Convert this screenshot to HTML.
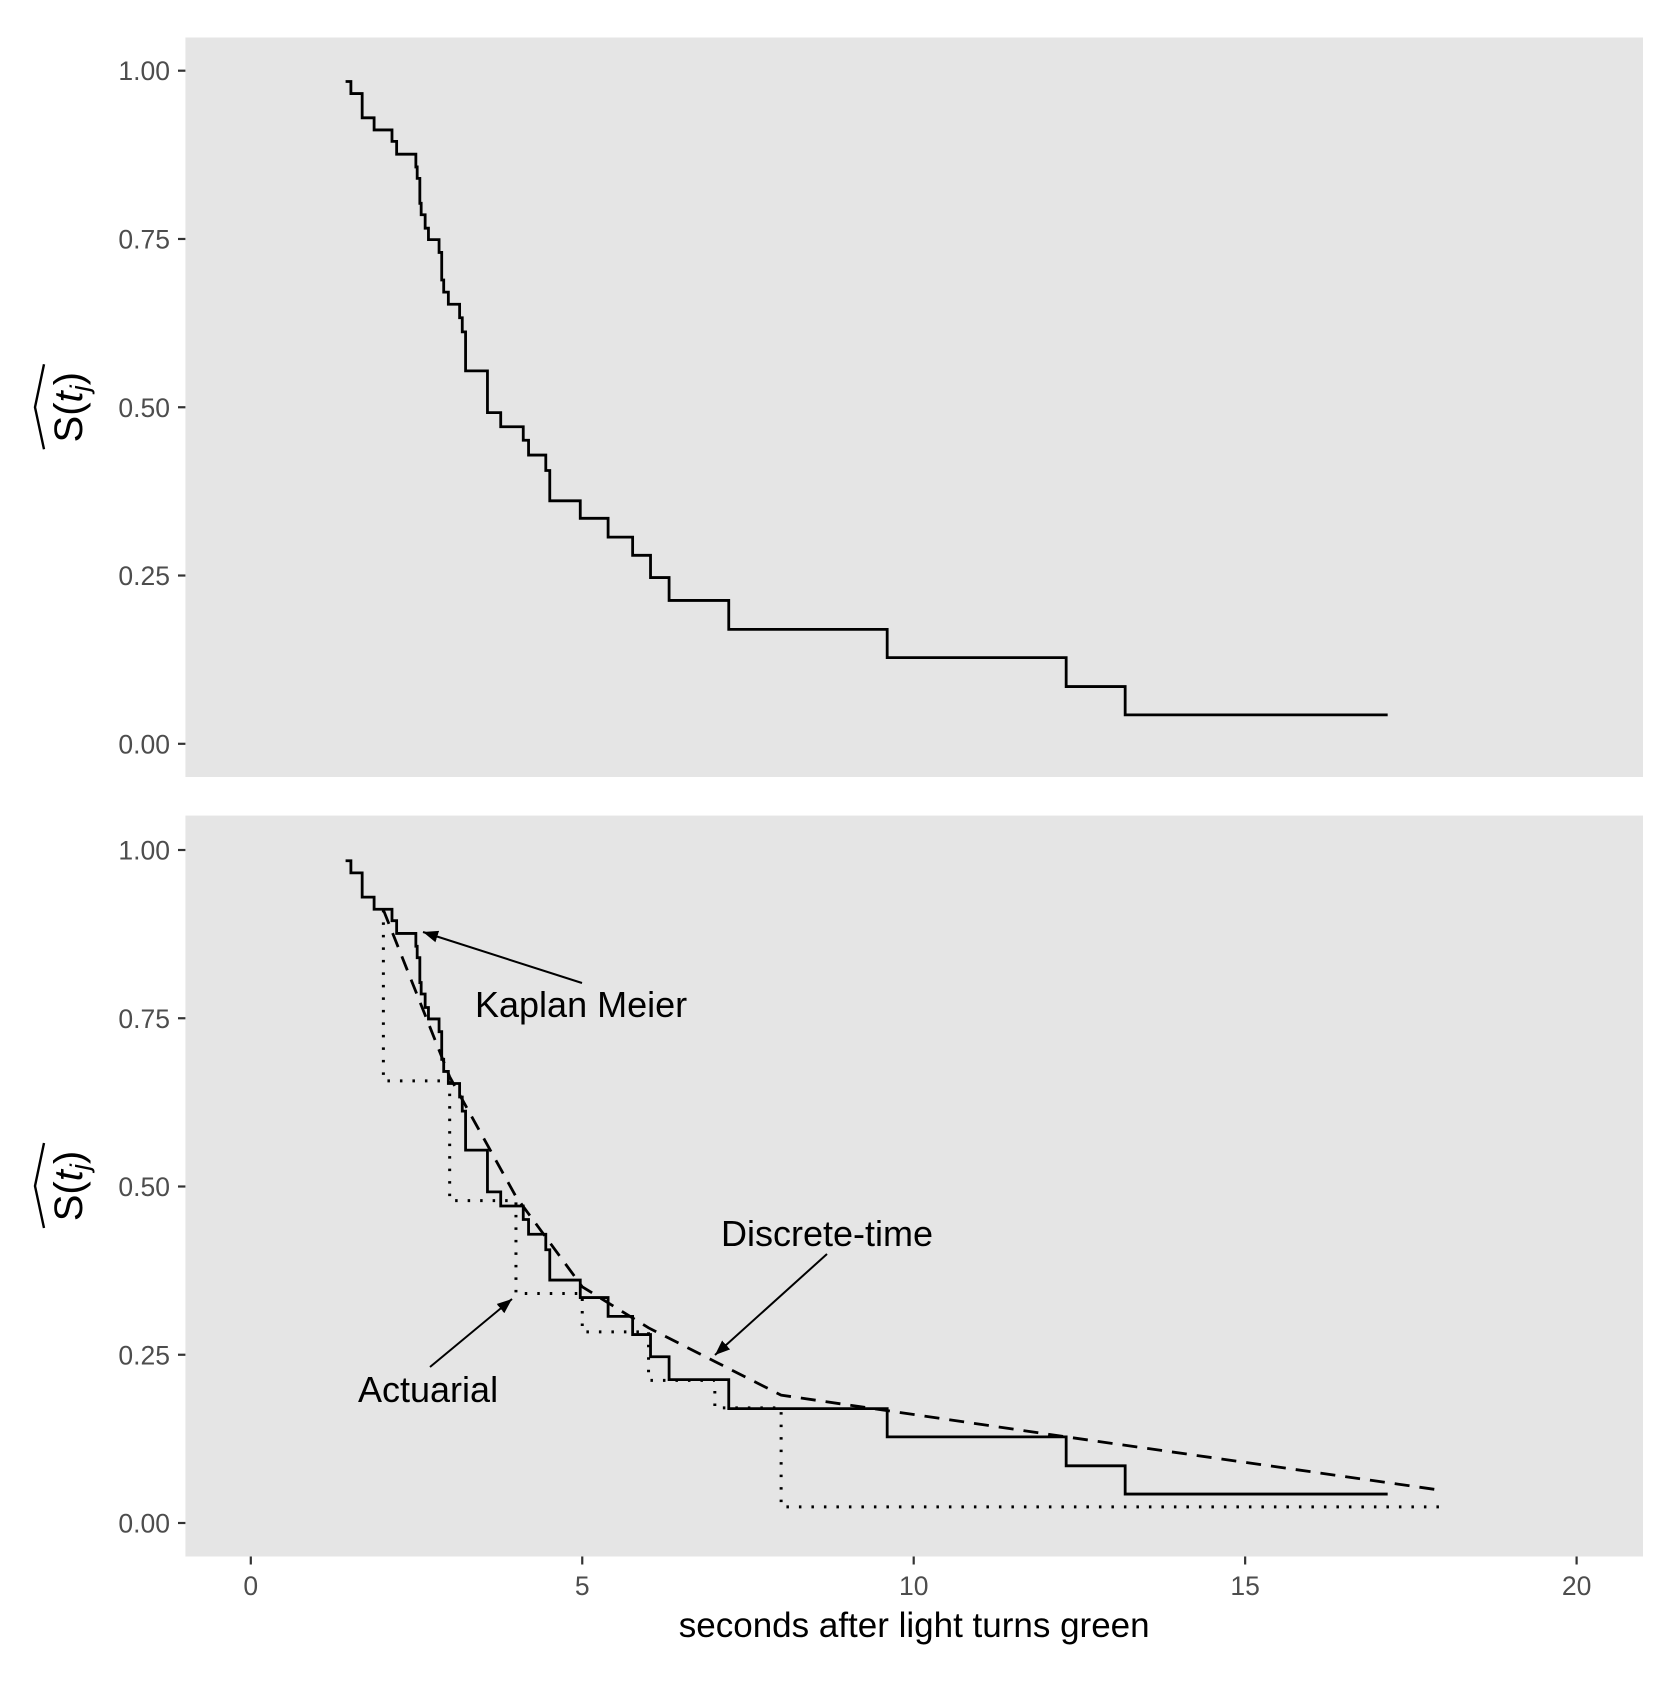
<!DOCTYPE html>
<html><head><meta charset="utf-8"><style>
html,body{margin:0;padding:0;background:#fff;}
svg text{font-family:"Liberation Sans",Arial,sans-serif;}
</style></head><body>
<svg id="chart" width="1680" height="1680" viewBox="0 0 1680 1680" xmlns="http://www.w3.org/2000/svg">
<defs>
<marker id="ah2" viewBox="0 0 10 10" refX="10" refY="5" markerWidth="15" markerHeight="15" markerUnits="userSpaceOnUse" orient="auto">
<path d="M0,1 L10,5 L0,9 z" fill="#000"/>
</marker>
</defs>
</svg>
<script>
const kmStart = [1.43, 0.984];
const kmTimes = [1.51,1.68,1.86,2.13,2.20,2.49,2.51,2.55,2.57,2.63,2.68,2.84,2.88,2.91,2.98,3.15,3.19,3.24,3.57,3.77,4.11,4.19,4.45,4.51,4.97,5.39,5.76,6.03,6.31,7.21,9.60,12.30,13.19];
const kmSurv = [0.966,0.930,0.912,0.895,0.876,0.857,0.840,0.803,0.786,0.766,0.749,0.730,0.689,0.671,0.653,0.633,0.612,0.554,0.492,0.471,0.451,0.429,0.406,0.361,0.335,0.307,0.280,0.247,0.213,0.170,0.128,0.085,0.043];
const kmEnd = 17.15;
const actTimes = [2,3,4,5,6,7,8];
const actSurv = [0.657,0.479,0.341,0.284,0.212,0.171,0.024];
const actStartSurv = 0.911;
const actEnd = 18;
const dtTimes = [2,3,4,5,6,7,8,12.3,18];
const dtSurv = [0.911,0.663,0.485,0.351,0.29,0.24,0.19,0.128,0.048];
const xTicks = [0,5,10,15,20];
const yTicks = [0,0.25,0.5,0.75,1];
const yTickLabels = ["0.00","0.25","0.50","0.75","1.00"];

const NS="http://www.w3.org/2000/svg";
const svg=document.getElementById('chart');
const PL=185.4, PR=1643;
const panels=[{top:37.5,bot:777,y1:70.7,y0:743.8},{top:815.6,bot:1556.5,y1:850,y0:1523}];
const sx=v=>250.8+v*66.29;
function mk(tag,attrs,parent){const e=document.createElementNS(NS,tag);for(const k in attrs)e.setAttribute(k,attrs[k]);(parent||svg).appendChild(e);return e;}
function stepPath(sy,start,times,vals,end){
  let d=`M${sx(start[0])},${sy(start[1])}`;let cur=start[1];
  times.forEach((t,i)=>{d+=` L${sx(t)},${sy(cur)} L${sx(t)},${sy(vals[i])}`;cur=vals[i];});
  d+=` L${sx(end)},${sy(cur)}`;return d;
}
panels.forEach((p,pi)=>{
  const sy=v=>p.y0+(p.y1-p.y0)*v;
  const g=mk('g',{});
  
  
  const bg=mk('rect',{x:PL,y:p.top,width:PR-PL,height:p.bot-p.top,fill:'#e5e5e5'},g);
  
  
  yTicks.forEach((v,i)=>{
    const tk=mk('line',{x1:178,x2:PL,y1:sy(v),y2:sy(v),stroke:'#333','stroke-width':2.2},g);
    
    
    const tl=mk('text',{x:170,y:sy(v)+9.5,'text-anchor':'end','font-size':26.5,fill:'#4d4d4d'},g);
    tl.textContent=yTickLabels[i];
    
    
  });
  const cy=(p.top+p.bot)/2;
  const yt=mk('g',{transform:`translate(82,${cy}) rotate(-90)`},g);
  
  
  const tt=mk('text',{x:0,y:0,'text-anchor':'middle','font-size':40,fill:'#000'},yt);
  tt.innerHTML='S(<tspan font-style="italic">t</tspan><tspan font-style="italic" font-size="27" dy="7">j</tspan><tspan dy="-7">)</tspan>';
  mk('path',{d:'M-42,-38 L0,-47 L43,-38',fill:'none',stroke:'#000','stroke-width':2.4},yt);
  const km=mk('path',{d:stepPath(sy,kmStart,kmTimes,kmSurv,kmEnd),fill:'none',stroke:'#000','stroke-width':2.8},g);
  
  
  if(pi===1){
    const act=mk('path',{d:stepPath(sy,[actTimes[0],actStartSurv],actTimes,actSurv,actEnd),fill:'none',stroke:'#000','stroke-width':3,'stroke-dasharray':'2.5 10'},g);
    
    
    let d='';dtTimes.forEach((t,i)=>{d+=(i?' L':'M')+sx(t)+','+sy(dtSurv[i]);});
    const dt=mk('path',{d:d,fill:'none',stroke:'#000','stroke-width':2.8,'stroke-dasharray':'15 10'},g);
    
    
    const notes=[['Kaplan Meier',475,1017,[582,983,423,932]],['Discrete-time',721,1246,[827,1254,715,1355]],['Actuarial',358,1402,[430,1367,512,1299]]];
    notes.forEach(n=>{
      const a=mk('line',{x1:n[3][0],y1:n[3][1],x2:n[3][2],y2:n[3][3],stroke:'#000','stroke-width':2,'marker-end':'url(#ah2)'},g);
      
      
      const t=mk('text',{x:n[1],y:n[2],'font-size':36,fill:'#000'},g);
      t.textContent=n[0];
      
      
    });
    xTicks.forEach(v=>{
      const tk=mk('line',{x1:sx(v),x2:sx(v),y1:p.bot,y2:p.bot+8,stroke:'#333','stroke-width':2.2},g);
      
      
      const tl=mk('text',{x:sx(v),y:1595,'text-anchor':'middle','font-size':26.5,fill:'#4d4d4d'},g);
      tl.textContent=String(v);
      
      
    });
  }
});
const xt=mk('text',{x:(PL+PR)/2,y:1637,'text-anchor':'middle','font-size':35,fill:'#000'});
xt.textContent='seconds after light turns green';


</script>
</body></html>
